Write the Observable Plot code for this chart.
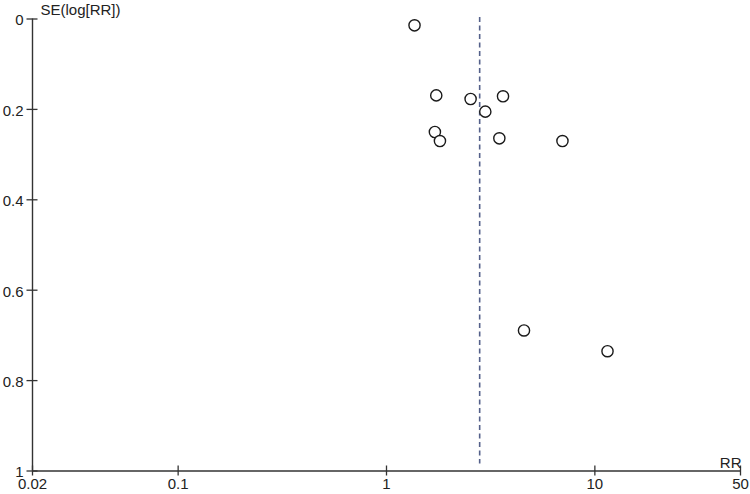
<!DOCTYPE html>
<html>
<head>
<meta charset="utf-8">
<script src="https://cdn.jsdelivr.net/npm/d3@7"></script>
<script src="https://cdn.jsdelivr.net/npm/@observablehq/plot@0.6"></script>
<style>
  html, body { margin: 0; padding: 0; background: #fff; }
  svg { display: block; }
</style>
</head>
<body>
<div id="chart"></div>
<script>
// Study estimates: risk ratio (RR) and standard error of log(RR)
const rr = [1.363, 1.733, 2.533, 3.624, 2.98, 1.707, 1.805, 3.48, 6.99, 4.57, 11.5];
const se = [0.014, 0.169, 0.177, 0.171, 0.205, 0.250, 0.270, 0.264, 0.270, 0.689, 0.735];
const pooledRR = [2.80];
const xTicks = [0.02, 0.1, 1, 10, 50];
const yTicks = [0, 0.2, 0.4, 0.6, 0.8, 1];
const xLabel = "RR";
const yLabel = "SE(log[RR])";

const studies = rr.map((r, i) => ({rr: r, se: se[i]}));
const font = "Liberation Sans, Arial, sans-serif";
const axisColor = "#333";
const textColor = "#222";

const chart = Plot.plot({
  width: 750,
  height: 494,
  marginLeft: 32,
  marginRight: 10,
  marginTop: 18.5,
  marginBottom: 23.5,
  style: {fontFamily: font, fontSize: "15px", background: "#fff", color: textColor, overflow: "visible"},
  x: {type: "log", domain: [0.02, 50], axis: null},
  y: {domain: [0, 1], reverse: true, axis: null},
  marks: [
    // pooled estimate dashed line
    Plot.ruleX(pooledRR, {x: d => d, y1: 0, y2: 1, insetTop: -1.5, insetBottom: 7, stroke: "#54608a", strokeWidth: 1.6, strokeDasharray: "5,3.5"}),
    // axis lines
    Plot.ruleX([0.02], {stroke: axisColor, strokeWidth: 1.4}),
    Plot.ruleY([1], {stroke: axisColor, strokeWidth: 1.4}),
    // cross ticks
    Plot.ruleX(xTicks, {x: d => d, y1: 1, y2: 1, insetTop: -5, insetBottom: -5, stroke: axisColor, strokeWidth: 1.3}),
    Plot.ruleY(yTicks, {y: d => d, x1: 0.02, x2: 0.02, insetLeft: -5.5, insetRight: -5.5, stroke: axisColor, strokeWidth: 1.3}),
    // tick labels
    Plot.text(xTicks, {x: d => d, y: 1, text: d => String(d), textAnchor: "middle", lineAnchor: "top", dy: 7.5, fill: textColor, fontSize: 15}),
    Plot.text(yTicks, {x: 0.02, y: d => d, text: d => String(d), textAnchor: "end", lineAnchor: "middle", dx: -9, dy: 1.5, fill: textColor, fontSize: 15}),
    // axis titles
    Plot.text([yLabel], {x: 0.02, y: 0, text: d => d, textAnchor: "start", lineAnchor: "top", dx: 8, dy: -15, fill: textColor, fontSize: 15}),
    Plot.text([xLabel], {x: 50, y: 1, text: d => d, textAnchor: "end", lineAnchor: "top", dx: 1, dy: -13.5, fill: textColor, fontSize: 15}),
    // study points
    Plot.dot(studies, {x: "rr", y: "se", r: 5.6, stroke: "#1a1a1a", strokeWidth: 1.4, fill: "#fff"})
  ]
});
document.getElementById("chart").appendChild(chart);
</script>
</body>
</html>
